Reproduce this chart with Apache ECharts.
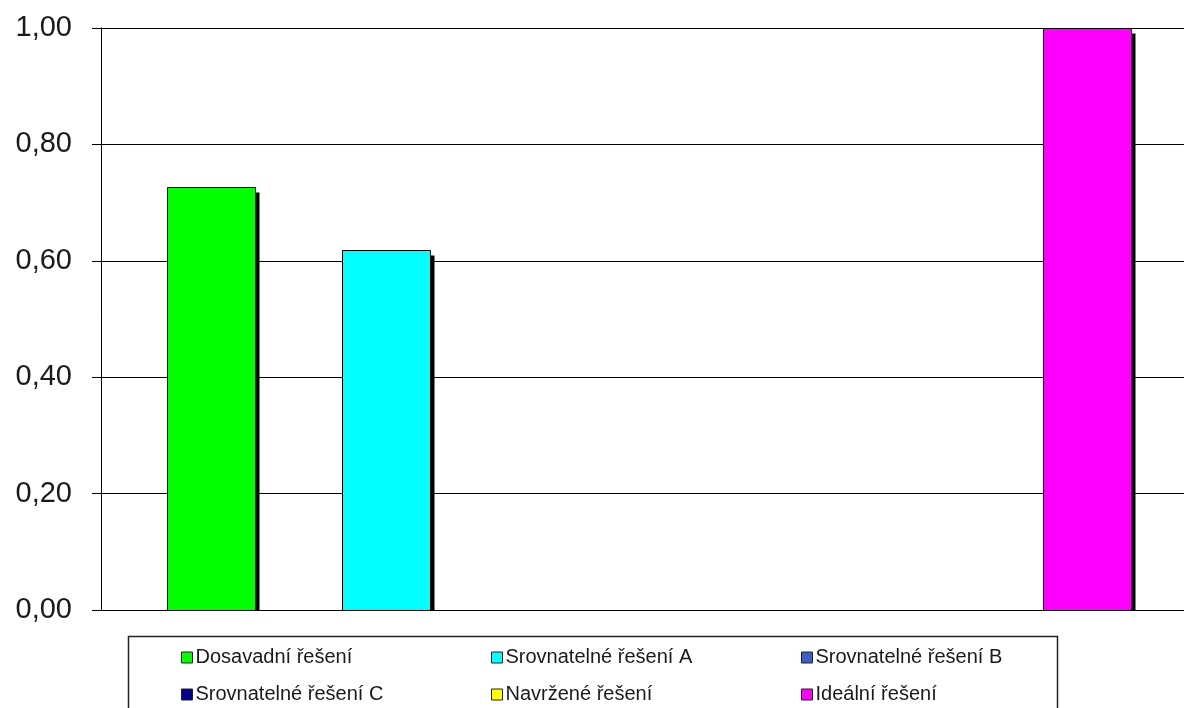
<!DOCTYPE html>
<html><head><meta charset="utf-8">
<script src="https://cdn.jsdelivr.net/npm/echarts@6/dist/echarts.min.js"></script>
<style>html,body{margin:0;padding:0;background:#fff}#c{width:1184px;height:708px}</style>
</head><body><div id="c"></div>
<script>
const categories = [''];
const seriesNames = ['Dosavadní řešení','Srovnatelné řešení A','Srovnatelné řešení B','Srovnatelné řešení C','Navržené řešení','Ideální řešení'];
const seriesValues = [0.726, 0.619, 0, 0, 0, 1.00];
const seriesColors = ['#00FF00','#00FFFF','#3D5DC8','#00008F','#FFFF00','#FF00FF'];
const yTicks = {min:0, max:1, interval:0.2};

const chart = echarts.init(document.getElementById('c'));
const font = '"Liberation Sans", Arial, sans-serif';
const BW = 88, SLOT = 175.2, SH = 4;
const series = seriesNames.map((n,i)=>({
  name:n, type:'custom',
  data: seriesValues[i] ? [[0, seriesValues[i]]] : [],
  encode:{x:0, y:1},
  itemStyle:{color:seriesColors[i], borderColor:'#000', borderWidth:1},
  renderItem:(params, api)=>{
    const v = api.value(1);
    const base = api.coord([api.value(0), 0]);
    const top = api.coord([api.value(0), v]);
    const cx = base[0] + (i - 2.5) * SLOT;
    const x = Math.round(cx - BW/2) + 0.5;
    const y = Math.round(top[1]) + 0.5;
    const b = Math.round(base[1]) + 0.5;
    return {type:'group', children:[
      {type:'rect', shape:{x:x+SH, y:y+SH+1, width:BW, height:b-y-SH-1}, style:{fill:'#000'}},
      {type:'rect', shape:{x:x, y:y, width:BW, height:b-y}, style:{fill:seriesColors[i], stroke:'#000', lineWidth:1}}
    ]};
  },
  emphasis:{disabled:true}, animation:false
}));
const legendBase = {orient:'vertical', top:647, padding:0, itemWidth:11, itemHeight:11, itemGap:16,
  icon:'rect', textStyle:{fontFamily:font, fontSize:20, lineHeight:21, color:'#1a1a1a', padding:[0,0,0,-2]},
  itemStyle:{borderColor:'#222', borderWidth:1}};
chart.setOption({
  animation:false,
  grid:{left:101, top:28, width:1096, bottom:98, outerBoundsMode:'none'},
  xAxis:{type:'category', data:categories, axisLine:{lineStyle:{color:'#000', width:1}}, axisTick:{show:false}, axisLabel:{show:false}},
  yAxis:{type:'value', min:yTicks.min, max:yTicks.max, interval:yTicks.interval,
    axisLine:{show:true, lineStyle:{color:'#000'}}, axisTick:{show:true, length:9, lineStyle:{color:'#000'}},
    splitLine:{lineStyle:{color:'#000', width:1}},
    axisLabel:{margin:29, fontSize:29, fontFamily:font, color:'#1a1a1a', formatter:v=>v.toFixed(2).replace('.',',')}},
  legend:[
    Object.assign({}, legendBase, {left:181, data:[seriesNames[0], seriesNames[3]]}),
    Object.assign({}, legendBase, {left:491, data:[seriesNames[1], seriesNames[4]]}),
    Object.assign({}, legendBase, {left:801, data:[seriesNames[2], seriesNames[5]]})
  ],
  graphic:[{type:'rect', shape:{x:128.5, y:636.5, width:929, height:90}, style:{fill:'none', stroke:'#222', lineWidth:1.5}, silent:true}],
  series
});
</script></body></html>
